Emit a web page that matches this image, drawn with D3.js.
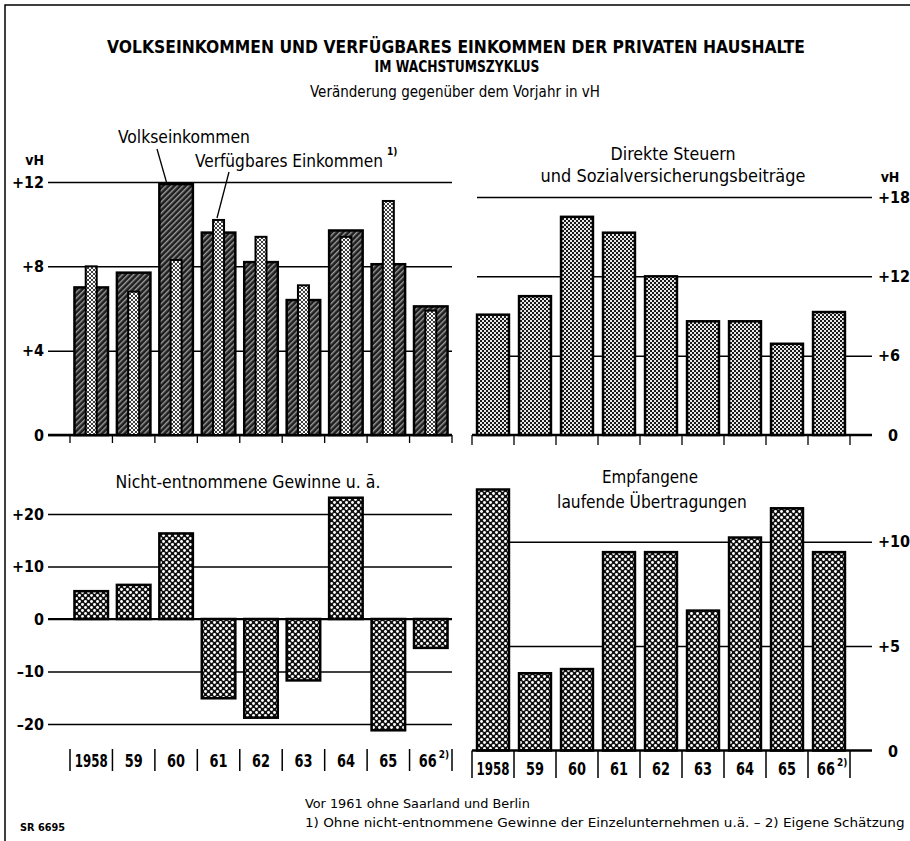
<!DOCTYPE html>
<html>
<head>
<meta charset="utf-8">
<script src="https://cdnjs.cloudflare.com/ajax/libs/d3/7.8.5/d3.min.js"></script>
<style>
body { margin: 0; background: #fff; }
</style>
</head>
<body>
<script>
var years = ["1958", "59", "60", "61", "62", "63", "64", "65", "66"];

var volkseinkommen = [7.0, 7.7, 11.9, 9.6, 8.2, 6.4, 9.7, 8.1, 6.1];
var verfuegbar = [8.0, 6.8, 8.3, 10.2, 9.4, 7.1, 9.4, 11.1, 5.9];
var steuern = [9.1, 10.5, 16.5, 15.3, 12.0, 8.6, 8.6, 6.9, 9.3];
var gewinne = [5.3, 6.5, 16.3, -15.1, -18.8, -11.7, 23.1, -21.2, -5.5];
var uebertragungen = [12.5, 3.7, 3.9, 9.5, 9.5, 6.7, 10.2, 11.6, 9.5];

var tlTicks = [0, 4, 8, 12];
var trTicks = [6, 12, 18];
var blTicks = [-20, -10, 0, 10, 20];
var brTicks = [5, 10];

var w = 910;
var h = 841;
var font = "'DejaVu Sans Condensed','Liberation Sans Narrow','Open Sans',sans-serif";

var svg = d3.select("body").append("svg")
    .attr("width", w)
    .attr("height", h)
    .style("font-family", font)
    .style("font-stretch", "condensed");

// fill patterns
var defs = svg.append("defs");

var hatch = defs.append("pattern").attr("id", "hatch")
    .attr("patternUnits", "userSpaceOnUse")
    .attr("width", 4).attr("height", 4)
    .attr("patternTransform", "rotate(-45)");
hatch.append("rect").attr("width", 4).attr("height", 4).attr("fill", "#1e1e1e");
hatch.append("rect").attr("width", 4).attr("height", 1.4).attr("fill", "#9c9c9c");

var dots = defs.append("pattern").attr("id", "dots")
    .attr("patternUnits", "userSpaceOnUse")
    .attr("width", 4).attr("height", 4);
dots.append("rect").attr("width", 4).attr("height", 4).attr("fill", "#fff");
[[0, 0], [4, 0], [0, 4], [4, 4], [2, 2]].forEach(function (p) {
    dots.append("circle").attr("cx", p[0]).attr("cy", p[1]).attr("r", 1.1).attr("fill", "#111");
});

var fine = defs.append("pattern").attr("id", "fine")
    .attr("patternUnits", "userSpaceOnUse")
    .attr("width", 4).attr("height", 4);
fine.append("rect").attr("width", 4).attr("height", 4).attr("fill", "#e8e8e8");
fine.append("rect").attr("width", 2).attr("height", 2).attr("fill", "#1a1a1a");
fine.append("rect").attr("x", 2).attr("y", 2).attr("width", 2).attr("height", 2).attr("fill", "#1a1a1a");

var coarse = defs.append("pattern").attr("id", "coarse")
    .attr("patternUnits", "userSpaceOnUse")
    .attr("width", 6).attr("height", 6);
coarse.append("rect").attr("width", 6).attr("height", 6).attr("fill", "#111");
[[1.5, 1.5], [4.5, 4.5]].forEach(function (p) {
    coarse.append("circle").attr("cx", p[0]).attr("cy", p[1]).attr("r", 1.45).attr("fill", "#fff");
});

// frame
svg.append("path")
    .attr("d", "M5,841V5H910")
    .attr("fill", "none")
    .attr("stroke", "#000")
    .attr("stroke-width", 1.5);

// text squeezed horizontally to a given width (old narrow typeface)
function text(x, y, str, size, weight, anchor, len) {
    var t = svg.append("text")
        .attr("transform", "translate(" + x + "," + y + ")")
        .attr("font-size", size)
        .attr("font-weight", weight)
        .attr("text-anchor", anchor)
        .attr("fill", "#000")
        .text(str);
    if (len) {
        var nat = t.node().getComputedTextLength();
        t.attr("transform", "translate(" + x + "," + y + ") scale(" + (len / nat) + ",1)");
    }
    return t;
}

// titles
text(456, 53, "VOLKSEINKOMMEN UND VERFÜGBARES EINKOMMEN DER PRIVATEN HAUSHALTE", 17, "bold", "middle", 698);
text(457, 72, "IM WACHSTUMSZYKLUS", 16, "bold", "middle", 165);
text(455, 97, "Veränderung gegenüber dem Vorjahr in vH", 15, "normal", "middle", 290);

function fmt(d) {
    if (d > 0) return "+" + d;
    if (d < 0) return "\u2013" + (-d);
    return "0";
}

// scales
var xLeft = d3.scaleBand().domain(years).range([70, 452]).paddingInner(0.21).paddingOuter(0.105);
var xRight = d3.scaleBand().domain(years).range([472, 850]).paddingInner(0.24).paddingOuter(0.12);

var yTL = d3.scaleLinear().domain([0, 12]).range([435, 182]);
var yTR = d3.scaleLinear().domain([0, 18]).range([435, 197]);
var yBL = d3.scaleLinear().domain([-20, 20]).range([724, 514]);
var yBR = d3.scaleLinear().domain([0, 10]).range([750.5, 541.7]);

function styleAxis(g) {
    g.select(".domain").remove();
    g.selectAll(".tick line").attr("stroke", "#000").attr("stroke-width", 1.5);
    g.selectAll(".tick text")
        .attr("font-size", 16)
        .attr("font-weight", "bold")
        .attr("fill", "#000")
        .style("font-family", font);
}

function boundaries(x) {
    var out = [];
    for (var i = 0; i <= years.length; i++) out.push(x.range()[0] + i * x.step());
    return out;
}

// ---------- top left: Volkseinkommen / Verfügbares Einkommen ----------
svg.append("g")
    .attr("transform", "translate(48,0)")
    .call(d3.axisLeft(yTL).tickValues(tlTicks).tickSize(-(452 - 48)).tickPadding(4).tickFormat(fmt))
    .call(styleAxis);

text(44, 165, "vH", 14, "bold", "end");

svg.append("line").attr("x1", 48).attr("x2", 452).attr("y1", yTL(0)).attr("y2", yTL(0))
    .attr("stroke", "#000").attr("stroke-width", 2.5);

svg.selectAll(".tltick")
    .data(boundaries(xLeft))
    .enter()
    .append("line")
    .attr("x1", function (d) { return d; })
    .attr("x2", function (d) { return d; })
    .attr("y1", yTL(0))
    .attr("y2", yTL(0) + 8)
    .attr("stroke", "#000")
    .attr("stroke-width", 1.3);

svg.selectAll(".volk")
    .data(volkseinkommen)
    .enter()
    .append("rect")
    .attr("x", function (d, i) { return xLeft(years[i]); })
    .attr("y", function (d) { return yTL(d); })
    .attr("width", xLeft.bandwidth())
    .attr("height", function (d) { return yTL(0) - yTL(d); })
    .attr("fill", "url(#hatch)")
    .attr("stroke", "#000")
    .attr("stroke-width", 2.5);

svg.selectAll(".verf")
    .data(verfuegbar)
    .enter()
    .append("rect")
    .attr("x", function (d, i) { return xLeft(years[i]) + xLeft.bandwidth() / 2 - 5.5; })
    .attr("y", function (d) { return yTL(d); })
    .attr("width", 11)
    .attr("height", function (d) { return yTL(0) - yTL(d); })
    .attr("fill", "url(#dots)")
    .attr("stroke", "#000")
    .attr("stroke-width", 2);

text(118, 143, "Volkseinkommen", 18, "normal", "start", 132);
text(195, 167, "Verfügbares Einkommen", 18, "normal", "start", 188);
text(387, 155, "1)", 10, "bold", "start");

svg.append("line").attr("x1", 157).attr("y1", 149).attr("x2", 167).attr("y2", 184)
    .attr("stroke", "#000").attr("stroke-width", 1.3);
svg.append("line").attr("x1", 229).attr("y1", 172).attr("x2", 217).attr("y2", 218)
    .attr("stroke", "#000").attr("stroke-width", 1.3);

// ---------- top right: Direkte Steuern ----------
svg.append("g")
    .attr("transform", "translate(872,0)")
    .call(d3.axisRight(yTR).tickValues(trTicks).tickSize(-(872 - 477)).tickPadding(6).tickFormat(fmt))
    .call(styleAxis);

svg.append("line").attr("x1", 472).attr("x2", 872).attr("y1", yTR(0)).attr("y2", yTR(0))
    .attr("stroke", "#000").attr("stroke-width", 2.5);
text(893, yTR(0) + 6, "0", 16, "bold", "middle");
text(890, 182, "vH", 14, "bold", "middle");

svg.selectAll(".trtick")
    .data(boundaries(xRight))
    .enter()
    .append("line")
    .attr("x1", function (d) { return d; })
    .attr("x2", function (d) { return d; })
    .attr("y1", yTR(0))
    .attr("y2", yTR(0) + 10)
    .attr("stroke", "#000")
    .attr("stroke-width", 1.3);

svg.selectAll(".steuer")
    .data(steuern)
    .enter()
    .append("rect")
    .attr("x", function (d, i) { return xRight(years[i]); })
    .attr("y", function (d) { return yTR(d); })
    .attr("width", xRight.bandwidth())
    .attr("height", function (d) { return yTR(0) - yTR(d); })
    .attr("fill", "url(#fine)")
    .attr("stroke", "#000")
    .attr("stroke-width", 2.5);

text(673, 160, "Direkte Steuern", 18, "normal", "middle", 125);
text(673, 182, "und Sozialversicherungsbeiträge", 18, "normal", "middle", 265);

// ---------- bottom left: Nicht-entnommene Gewinne ----------
svg.append("g")
    .attr("transform", "translate(48,0)")
    .call(d3.axisLeft(yBL).tickValues(blTicks).tickSize(-(452 - 48)).tickPadding(4).tickFormat(fmt))
    .call(styleAxis);

svg.append("line").attr("x1", 48).attr("x2", 452).attr("y1", yBL(0)).attr("y2", yBL(0))
    .attr("stroke", "#000").attr("stroke-width", 2);

svg.selectAll(".gew")
    .data(gewinne)
    .enter()
    .append("rect")
    .attr("x", function (d, i) { return xLeft(years[i]); })
    .attr("y", function (d) { return yBL(Math.max(0, d)); })
    .attr("width", xLeft.bandwidth())
    .attr("height", function (d) { return Math.abs(yBL(d) - yBL(0)); })
    .attr("fill", "url(#coarse)")
    .attr("stroke", "#000")
    .attr("stroke-width", 2.5);

text(248, 488, "Nicht-entnommene Gewinne u. ā.", 18, "normal", "middle", 265);

// left label strip
svg.selectAll(".lbox")
    .data(boundaries(xLeft))
    .enter()
    .append("line")
    .attr("x1", function (d) { return d; })
    .attr("x2", function (d) { return d; })
    .attr("y1", 749)
    .attr("y2", 771)
    .attr("stroke", "#000")
    .attr("stroke-width", 1.5);

function yearLabels(x, y) {
    years.forEach(function (yr) {
        var cx = x(yr) + x.bandwidth() / 2;
        if (yr === "66") {
            text(cx + 6, y, yr, 17, "bold", "end", 18);
            text(cx + 8, y - 9, "2)", 10, "bold", "start");
        } else {
            text(cx, y, yr, 17, "bold", "middle", yr.length > 2 ? 33 : 18);
        }
    });
}
yearLabels(xLeft, 767);

// ---------- bottom right: Empfangene laufende Übertragungen ----------
svg.append("g")
    .attr("transform", "translate(872,0)")
    .call(d3.axisRight(yBR).tickValues(brTicks).tickSize(-(872 - 477)).tickPadding(6).tickFormat(fmt))
    .call(styleAxis);

svg.selectAll(".ueb")
    .data(uebertragungen)
    .enter()
    .append("rect")
    .attr("x", function (d, i) { return xRight(years[i]); })
    .attr("y", function (d) { return yBR(d); })
    .attr("width", xRight.bandwidth())
    .attr("height", function (d) { return yBR(0) - yBR(d); })
    .attr("fill", "url(#coarse)")
    .attr("stroke", "#000")
    .attr("stroke-width", 2.5);

svg.append("line").attr("x1", 472).attr("x2", 872).attr("y1", yBR(0)).attr("y2", yBR(0))
    .attr("stroke", "#000").attr("stroke-width", 2.5);
text(893, yBR(0) + 6, "0", 16, "bold", "middle");

svg.selectAll(".rbox")
    .data(boundaries(xRight))
    .enter()
    .append("line")
    .attr("x1", function (d) { return d; })
    .attr("x2", function (d) { return d; })
    .attr("y1", yBR(0))
    .attr("y2", 778)
    .attr("stroke", "#000")
    .attr("stroke-width", 1.5);

yearLabels(xRight, 775);

text(650, 483, "Empfangene", 18, "normal", "middle", 96);
text(652, 508, "laufende Übertragungen", 18, "normal", "middle", 190);

// footer
text(305, 808, "Vor 1961 ohne Saarland und Berlin", 13, "normal", "start", 225);
text(305, 827, "1) Ohne nicht-entnommene Gewinne der Einzelunternehmen u.ä. \u2013 2) Eigene Schätzung", 13, "normal", "start", 600);
text(20, 831, "SR 6695", 11, "bold", "start", 45);
</script>
</body>
</html>
